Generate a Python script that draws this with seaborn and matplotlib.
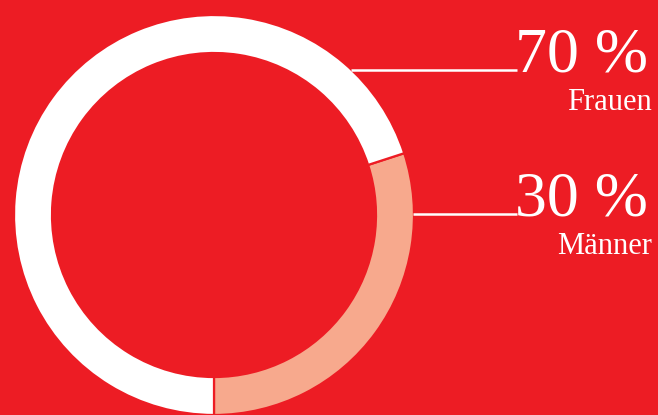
import numpy as np
import matplotlib
matplotlib.use("Agg")
import matplotlib.pyplot as plt
import seaborn as sns

labels = ["Männer", "Frauen"]
values = [30, 70]
pct_labels = ["30 %", "70 %"]

BG = "#ED1C24"
COLORS = ["#F7A98D", "#FFFFFF"]

sns.set_theme(style="white")
plt.rcParams["font.family"] = ["Liberation Serif", "DejaVu Serif"]

W, H = 658, 415
fig = plt.figure(figsize=(W / 100, H / 100), dpi=100, facecolor=BG)
ax = fig.add_axes([0, 0, 1, 1])
ax.set_facecolor(BG)

cx, cy = 214, 200
R, ring = 200, 38
ax.pie(values, colors=COLORS, startangle=-90, counterclock=True,
       center=(cx, cy), radius=R, frame=True,
       wedgeprops=dict(width=ring, edgecolor=BG, linewidth=1.6))
ax.set_xlim(0, W)
ax.set_ylim(0, H)
ax.set_aspect("equal")
ax.axis("off")

# label positions (y in data coords, up)
line_y = {"Frauen": 345, "Männer": 201}
line_end = 517
for lab, pct in zip(labels, pct_labels):
    y = line_y[lab]
    x0 = cx + np.sqrt(R**2 - (y - cy) ** 2)
    ax.plot([x0 - 1, line_end], [y, y], color="white", lw=1.8, solid_capstyle="butt")
    ax.text(648, y - 1, pct, color="white", fontsize=46, ha="right", va="baseline")
    ax.text(652, y - 40, lab, color="white", fontsize=22, ha="right", va="baseline")

fig.savefig("out.png", dpi=100, facecolor=BG)
